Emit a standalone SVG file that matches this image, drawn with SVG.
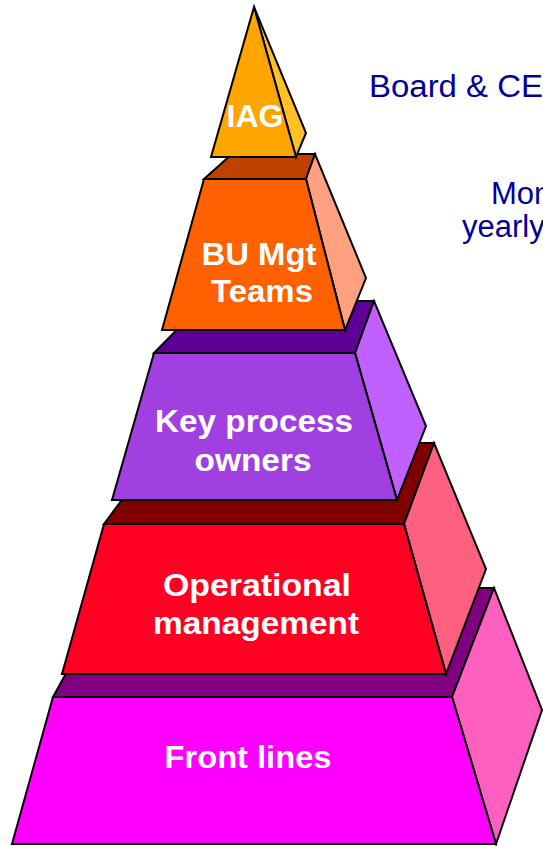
<svg xmlns="http://www.w3.org/2000/svg" width="543" height="846" viewBox="0 0 543 846">
<style>
  .f{stroke:#000;stroke-width:2;stroke-linejoin:miter}
  .lbl{font-family:"Liberation Sans",Arial,sans-serif;font-weight:bold;font-size:32px;fill:#fff;text-anchor:middle}
  .side{font-family:"Liberation Sans",Arial,sans-serif;font-size:31px;fill:#000099}
</style>
<rect width="543" height="846" fill="#fff"/>
<g id="tier-front-lines">
  <polygon class="f" fill="#800080" points="53,697 113,588 494,588 452,697"/>
  <polygon class="f" fill="#FF60C0" points="452,697 494,588 542,710 496,844"/>
  <polygon class="f" fill="#FF00FF" points="53,697 452,697 496,844 12,844"/>
  <text class="lbl" x="248" y="768" textLength="167" lengthAdjust="spacingAndGlyphs">Front lines</text>
</g>
<g id="tier-operational">
  <polygon class="f" fill="#800000" points="104,524 164,443 434,443 404,524"/>
  <polygon class="f" fill="#FF6080" points="404,524 434,443 486,569 446,674"/>
  <polygon class="f" fill="#FF0022" points="104,524 404,524 446,674 62,674"/>
  <text class="lbl" x="257" y="596" textLength="188" lengthAdjust="spacingAndGlyphs">Operational</text>
  <text class="lbl" x="256" y="634" textLength="206" lengthAdjust="spacingAndGlyphs">management</text>
</g>
<g id="tier-key-process">
  <polygon class="f" fill="#5E0096" points="154,353 205,301 374,301 355,353"/>
  <polygon class="f" fill="#C060FF" points="355,353 374,301 426,426 397,500"/>
  <polygon class="f" fill="#A040E0" points="154,353 355,353 397,500 112,500"/>
  <text class="lbl" x="254" y="432" textLength="198" lengthAdjust="spacingAndGlyphs">Key process</text>
  <text class="lbl" x="253" y="471" textLength="117" lengthAdjust="spacingAndGlyphs">owners</text>
</g>
<g id="tier-bu-mgt">
  <polygon class="f" fill="#C04000" points="204,179 232,154 315,154 306,179"/>
  <polygon class="f" fill="#FFA080" points="306,179 315,154 366,278 345,330"/>
  <polygon class="f" fill="#FF6000" points="204,179 306,179 345,330 162,330"/>
  <text class="lbl" x="259" y="265" textLength="115" lengthAdjust="spacingAndGlyphs">BU Mgt</text>
  <text class="lbl" x="262" y="302" textLength="102" lengthAdjust="spacingAndGlyphs">Teams</text>
</g>
<g id="tier-iag">
  <polygon class="f" fill="#FFC125" points="254,7 306,133 296,157"/>
  <polygon class="f" fill="#FFA500" points="254,7 296,157 211,157"/>
  <text class="lbl" x="255" y="127" textLength="57" lengthAdjust="spacingAndGlyphs">IAG</text>
</g>
<g id="side-labels">
  <text class="side" x="369" y="97" textLength="174" lengthAdjust="spacingAndGlyphs">Board &amp; CE</text>
  <text class="side" x="491" y="204">Mon</text>
  <text class="side" x="462" y="237">yearly</text>
</g>
</svg>
